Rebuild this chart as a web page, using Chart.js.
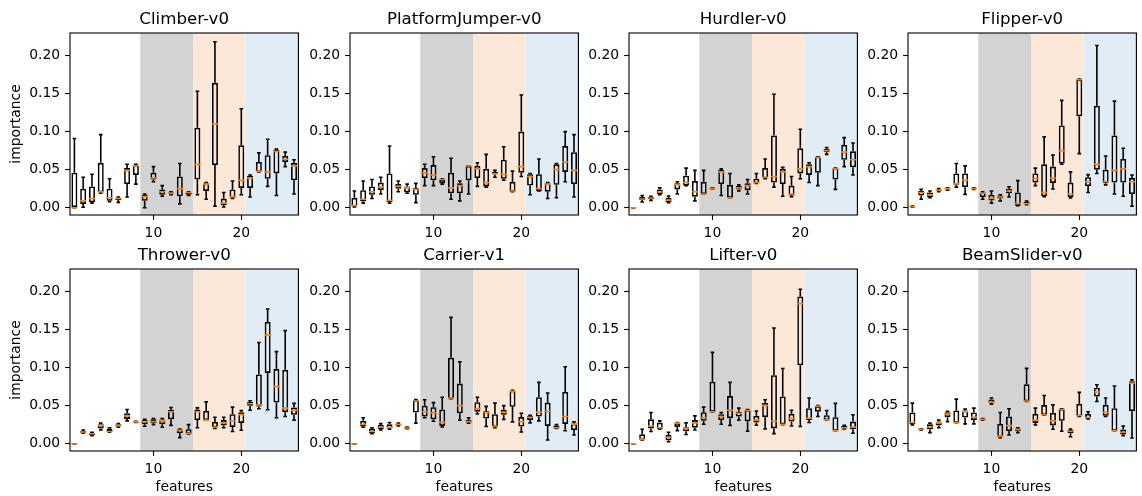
<!DOCTYPE html>
<html>
<head>
<meta charset="utf-8">
<script src="https://cdn.jsdelivr.net/npm/chart.js@4.4.1/dist/chart.umd.min.js"></script>
<style>
  body { margin: 0; background: #fff; }
  #fig { position: relative; width: 1142px; height: 496px; overflow: hidden; background: #fff; }
  #fig canvas { position: absolute; }
</style>
</head>
<body>
<div id="fig"></div>
<script>
// one boxplot per feature, rows are [min, q1, median, q3, max]
const envNames = ["Climber-v0", "PlatformJumper-v0", "Hurdler-v0", "Flipper-v0",
                  "Thrower-v0", "Carrier-v1", "Lifter-v0", "BeamSlider-v0"];
const features = [1, 2, 3, 4, 5, 6, 7, 8, 9, 10, 11, 12, 13, 14, 15, 16, 17, 18, 19, 20, 21, 22, 23, 24, 25, 26];
const xTicks = [10, 20];
const yTicks = [0, 0.05, 0.1, 0.15, 0.2];
const yMin = -0.0096, yMax = 0.2295;
const spanEdges = [8.5, 14.5, 20.5, 26.5];
const spanColors = ["#d3d3d3", "#fbe8d9", "#e1ecf5"];

const climber = [
  [0, 0, 0, 0.046, 0.091], [0.0005, 0.005, 0.009, 0.025, 0.040], [0.006, 0.007, 0.012, 0.028, 0.044],
  [0.019, 0.020, 0.021, 0.059, 0.096], [0.008, 0.009, 0.013, 0.025, 0.038], [0.007, 0.010, 0.012, 0.013, 0.014],
  [0.014, 0.031, 0.049, 0.052, 0.057], [0.031, 0.043, 0.055, 0.056, 0.057], [0.0, 0.009, 0.0145, 0.017, 0.018],
  [0.034, 0.037, 0.039, 0.046, 0.054], [0.015, 0.017, 0.021, 0.024, 0.029], [0.017, 0.018, 0.019, 0.020, 0.021],
  [0.005, 0.015, 0.025, 0.041, 0.058], [0.016, 0.017, 0.020, 0.020, 0.021], [0.017, 0.037, 0.057, 0.105, 0.153],
  [0.011, 0.022, 0.031, 0.032, 0.033], [0.002, 0.056, 0.110, 0.164, 0.218], [0.001, 0.0035, 0.006, 0.012, 0.020],
  [0.012, 0.013, 0.0145, 0.024, 0.035], [0.017, 0.026, 0.036, 0.082, 0.130], [0.014, 0.026, 0.039, 0.042, 0.043],
  [0.047, 0.047, 0.048, 0.060, 0.072], [0.028, 0.038, 0.047, 0.069, 0.090], [0.016, 0.045, 0.074, 0.076, 0.077],
  [0.054, 0.060, 0.0636, 0.068, 0.073], [0.018, 0.036, 0.055, 0.059, 0.063]
];
const platformJumper = [
  [0.001, 0.0015, 0.003, 0.013, 0.022], [0.006, 0.008, 0.011, 0.023, 0.035], [0.012, 0.017, 0.021, 0.028, 0.037],
  [0.018, 0.023, 0.027, 0.033, 0.040], [0.006, 0.0075, 0.0096, 0.045, 0.081], [0.021, 0.025, 0.028, 0.031, 0.035],
  [0.019, 0.020, 0.026, 0.028, 0.031], [0.0066, 0.017, 0.024, 0.026, 0.032], [0.029, 0.039, 0.046, 0.052, 0.057],
  [0.029, 0.036, 0.043, 0.056, 0.067], [0.031, 0.032, 0.037, 0.037, 0.038], [0.011, 0.019, 0.026, 0.046, 0.065],
  [0.009, 0.019, 0.029, 0.032, 0.035], [0.018, 0.036, 0.0548, 0.055, 0.055], [0.028, 0.039, 0.051, 0.055, 0.059],
  [0.027, 0.028, 0.033, 0.051, 0.070], [0.040, 0.044, 0.0445, 0.047, 0.049], [0.036, 0.038, 0.044, 0.063, 0.080],
  [0.021, 0.021, 0.022, 0.034, 0.048], [0.041, 0.046, 0.054, 0.100, 0.148], [0.017, 0.029, 0.041, 0.044, 0.045],
  [0.022, 0.022, 0.025, 0.044, 0.064], [0.012, 0.021, 0.031, 0.032, 0.033], [0.013, 0.030, 0.050, 0.057, 0.058],
  [0.034, 0.047, 0.060, 0.081, 0.100], [0.014, 0.031, 0.049, 0.073, 0.096]
];
const hurdler = [
  [0, 0, 0, 0, 0], [0.0075, 0.010, 0.0115, 0.014, 0.016], [0.0096, 0.011, 0.0127, 0.014, 0.015],
  [0.017, 0.018, 0.0206, 0.024, 0.026], [0.0066, 0.0075, 0.010, 0.0127, 0.0153], [0.018, 0.024, 0.030, 0.032, 0.034],
  [0.029, 0.029, 0.033, 0.042, 0.052], [0.009, 0.0145, 0.021, 0.035, 0.049], [0.018, 0.018, 0.018, 0.034, 0.049],
  [0.0245, 0.0245, 0.025, 0.026, 0.026], [0.016, 0.031, 0.047, 0.0496, 0.051], [0.013, 0.013, 0.013, 0.030, 0.045],
  [0.022, 0.024, 0.026, 0.0285, 0.030], [0.018, 0.023, 0.029, 0.032, 0.037], [0.032, 0.032, 0.033, 0.038, 0.045],
  [0.038, 0.0386, 0.040, 0.052, 0.064], [0.027, 0.033, 0.041, 0.095, 0.149], [0.015, 0.031, 0.047, 0.051, 0.053],
  [0.0145, 0.016, 0.018, 0.029, 0.041], [0.038, 0.045, 0.051, 0.078, 0.103], [0.033, 0.043, 0.054, 0.057, 0.059],
  [0.029, 0.046, 0.066, 0.067, 0.067], [0.070, 0.073, 0.075, 0.077, 0.079], [0.024, 0.037, 0.051, 0.052, 0.052],
  [0.054, 0.063, 0.073, 0.0825, 0.092], [0.043, 0.053, 0.063, 0.074, 0.085]
];
const flipper = [
  [0.0005, 0.001, 0.0012, 0.0015, 0.002], [0.011, 0.016, 0.020, 0.022, 0.024], [0.013, 0.014, 0.0167, 0.020, 0.022],
  [0.021, 0.022, 0.023, 0.024, 0.025], [0.023, 0.024, 0.025, 0.0254, 0.026], [0.027, 0.030, 0.0316, 0.045, 0.058],
  [0.0175, 0.027, 0.036, 0.045, 0.055], [0.024, 0.0245, 0.025, 0.0255, 0.026], [0.011, 0.014, 0.019, 0.020, 0.021],
  [0.006, 0.0096, 0.0123, 0.017, 0.022], [0.009, 0.012, 0.014, 0.016, 0.017], [0.014, 0.019, 0.022, 0.025, 0.0276],
  [0.0025, 0.0026, 0.0053, 0.020, 0.0355], [0.004, 0.0045, 0.0053, 0.0079, 0.0088], [0.029, 0.033, 0.038, 0.045, 0.052],
  [0.0145, 0.015, 0.020, 0.057, 0.093], [0.0245, 0.0325, 0.039, 0.054, 0.069], [0.057, 0.058, 0.075, 0.108, 0.141],
  [0.0127, 0.014, 0.018, 0.033, 0.047], [0.071, 0.120, 0.168, 0.1685, 0.169], [0.020, 0.0285, 0.034, 0.040, 0.0434],
  [0.045, 0.050, 0.057, 0.134, 0.213], [0.030, 0.032, 0.034, 0.050, 0.068], [0.018, 0.033, 0.049, 0.095, 0.140],
  [0.015, 0.033, 0.051, 0.064, 0.078], [0.002, 0.018, 0.034, 0.039, 0.043]
];
const thrower = [
  [0, 0, 0, 0, 0], [0.0137, 0.0143, 0.0154, 0.017, 0.018], [0.0106, 0.011, 0.013, 0.0145, 0.015],
  [0.018, 0.020, 0.024, 0.0255, 0.027], [0.015, 0.016, 0.016, 0.020, 0.021], [0.0216, 0.0225, 0.024, 0.0255, 0.0264],
  [0.030, 0.0326, 0.0366, 0.040, 0.045], [0.028, 0.0283, 0.0286, 0.029, 0.0295], [0.023, 0.0255, 0.029, 0.031, 0.032],
  [0.025, 0.027, 0.029, 0.032, 0.033], [0.0216, 0.0255, 0.030, 0.0317, 0.033], [0.024, 0.032, 0.042, 0.0445, 0.0476],
  [0.008, 0.0137, 0.0176, 0.019, 0.0194], [0.0128, 0.013, 0.0137, 0.019, 0.025], [0.021, 0.031, 0.042, 0.045, 0.047],
  [0.031, 0.031, 0.031, 0.043, 0.055], [0.020, 0.0216, 0.022, 0.0286, 0.0348], [0.021, 0.024, 0.0273, 0.031, 0.0348],
  [0.016, 0.022, 0.0295, 0.0388, 0.048], [0.0176, 0.0273, 0.038, 0.0414, 0.0436], [0.044, 0.050, 0.0524, 0.055, 0.0564],
  [0.046, 0.049, 0.051, 0.091, 0.133], [0.0445, 0.093, 0.143, 0.160, 0.177], [0.034, 0.054, 0.075, 0.098, 0.121],
  [0.0357, 0.0414, 0.0467, 0.097, 0.1485], [0.031, 0.038, 0.044, 0.0476, 0.053]
];
const carrier = [
  [0, 0, 0, 0, 0], [0.0216, 0.0225, 0.0255, 0.030, 0.034], [0.013, 0.0137, 0.016, 0.0198, 0.021],
  [0.018, 0.0194, 0.0216, 0.0247, 0.0264], [0.019, 0.0198, 0.0216, 0.0255, 0.0278], [0.0233, 0.024, 0.0255, 0.026, 0.027],
  [0.0198, 0.020, 0.0207, 0.0215, 0.022], [0.027, 0.041, 0.056, 0.057, 0.058], [0.034, 0.0357, 0.042, 0.050, 0.0577],
  [0.0295, 0.032, 0.0405, 0.048, 0.054], [0.022, 0.0233, 0.028, 0.045, 0.061], [0.059, 0.059, 0.060, 0.113, 0.166],
  [0.031, 0.040, 0.050, 0.079, 0.1075], [0.027, 0.028, 0.029, 0.031, 0.034], [0.039, 0.042, 0.046, 0.0546, 0.061],
  [0.0225, 0.033, 0.0414, 0.043, 0.049], [0.021, 0.022, 0.023, 0.0388, 0.0533], [0.032, 0.038, 0.0414, 0.0445, 0.050],
  [0.0286, 0.0485, 0.0687, 0.0696, 0.070], [0.0154, 0.0225, 0.029, 0.035, 0.040], [0.0273, 0.031, 0.0348, 0.0366, 0.0374],
  [0.030, 0.0357, 0.0414, 0.061, 0.0806], [0.0048, 0.0233, 0.0423, 0.054, 0.0665], [0.020, 0.020, 0.021, 0.024, 0.025],
  [0.017, 0.026, 0.0357, 0.068, 0.101], [0.0115, 0.018, 0.0255, 0.0264, 0.0286]
];
const lifter = [
  [0, 0, 0, 0, 0], [0.0048, 0.005, 0.006, 0.0123, 0.019], [0.016, 0.020, 0.0233, 0.032, 0.041],
  [0.019, 0.0194, 0.021, 0.0278, 0.030], [0.0026, 0.0044, 0.0084, 0.0115, 0.015], [0.0172, 0.022, 0.027, 0.027, 0.0278],
  [0.012, 0.0163, 0.020, 0.0216, 0.0273], [0.018, 0.021, 0.0273, 0.031, 0.0366], [0.0255, 0.030, 0.034, 0.0414, 0.048],
  [0.0418, 0.0418, 0.042, 0.0815, 0.120], [0.0255, 0.031, 0.0357, 0.0388, 0.041], [0.024, 0.0335, 0.044, 0.0626, 0.0806],
  [0.031, 0.0357, 0.040, 0.042, 0.0467], [0.0163, 0.0295, 0.0436, 0.0445, 0.045], [0.0242, 0.0278, 0.031, 0.0366, 0.043],
  [0.0194, 0.0348, 0.050, 0.0537, 0.0577], [0.0132, 0.020, 0.0295, 0.090, 0.152], [0.025, 0.0255, 0.0256, 0.062, 0.0987],
  [0.0233, 0.029, 0.0335, 0.039, 0.044], [0.0225, 0.103, 0.184, 0.1934, 0.203], [0.0278, 0.031, 0.0335, 0.0467, 0.060],
  [0.0357, 0.042, 0.049, 0.049, 0.050], [0.031, 0.031, 0.0313, 0.0374, 0.0436], [0.017, 0.017, 0.0172, 0.0348, 0.053],
  [0.0194, 0.0198, 0.021, 0.0233, 0.024], [0.0137, 0.019, 0.022, 0.029, 0.038]
];
const beamSlider = [
  [0.0247, 0.0255, 0.028, 0.041, 0.0533], [0.018, 0.0185, 0.019, 0.0193, 0.0196], [0.0145, 0.019, 0.022, 0.0255, 0.027],
  [0.021, 0.024, 0.0273, 0.029, 0.031], [0.029, 0.0348, 0.0388, 0.0414, 0.0427], [0.0277, 0.0278, 0.028, 0.0436, 0.0586],
  [0.026, 0.0344, 0.042, 0.0436, 0.0454], [0.026, 0.031, 0.0348, 0.041, 0.0467], [0.031, 0.031, 0.032, 0.033, 0.033],
  [0.052, 0.053, 0.0546, 0.058, 0.060], [0.008, 0.0088, 0.010, 0.026, 0.041], [0.0115, 0.0167, 0.0238, 0.0357, 0.046],
  [0.0145, 0.0163, 0.0185, 0.020, 0.021], [0.0555, 0.0557, 0.056, 0.078, 0.099], [0.0247, 0.0273, 0.031, 0.039, 0.0467],
  [0.0375, 0.0376, 0.038, 0.0507, 0.0634], [0.019, 0.024, 0.030, 0.0405, 0.051], [0.0163, 0.030, 0.045, 0.0458, 0.046],
  [0.0092, 0.0137, 0.0163, 0.018, 0.0194], [0.0357, 0.036, 0.037, 0.0524, 0.0674], [0.0326, 0.033, 0.0344, 0.039, 0.042],
  [0.0555, 0.062, 0.068, 0.0736, 0.0775], [0.0357, 0.0366, 0.041, 0.051, 0.060], [0.017, 0.017, 0.0172, 0.0467, 0.0758],
  [0.0106, 0.012, 0.015, 0.0185, 0.0233], [0.0075, 0.0427, 0.0797, 0.082, 0.084]
];

const panels = [climber, platformJumper, hurdler, flipper, thrower, carrier, lifter, beamSlider];

Chart.defaults.font.family = "'DejaVu Sans', sans-serif";
Chart.defaults.font.size = 13.9;
Chart.defaults.color = "#000";

// axes boxes of the 2x4 grid
const colLeft = [70, 350, 629, 908];
const rowTop = [33, 269];

const spanPlugin = {
  id: "spans",
  beforeDatasetsDraw(chart) {
    const { ctx, chartArea: a, scales: { x } } = chart;
    ctx.save();
    spanColors.forEach((c, k) => {
      const x0 = x.getPixelForValue(spanEdges[k]);
      const x1 = x.getPixelForValue(spanEdges[k + 1]);
      ctx.fillStyle = c;
      ctx.fillRect(x0, a.top, x1 - x0, a.bottom - a.top);
    });
    ctx.restore();
  },
  afterDraw(chart) {
    const { ctx, chartArea: a } = chart;
    ctx.save();
    ctx.strokeStyle = "#000";
    ctx.lineWidth = 1.1;
    ctx.strokeRect(a.left, a.top, a.right - a.left, a.bottom - a.top);
    ctx.restore();
  }
};

const tickGrid = {
  display: true, drawOnChartArea: false, drawTicks: true,
  tickLength: 4.9, tickWidth: 1.1, tickColor: "#000", offset: false
};

const fig = document.getElementById("fig");

panels.forEach((rows, i) => {
  const col = i % 4, row = Math.floor(i / 4);
  const canvas = document.createElement("canvas");
  canvas.width = 304;
  canvas.height = 260;
  canvas.style.left = (colLeft[col] - 70) + "px";
  canvas.style.top = (rowTop[row] - 33) + "px";
  fig.appendChild(canvas);

  const lower = features.map((f, j) => ({ x: f, y: [rows[j][0], rows[j][1]] }));
  const upper = features.map((f, j) => ({ x: f, y: [rows[j][3], rows[j][4]] }));
  const boxes = features.map((f, j) => ({ x: f, y: [rows[j][1], rows[j][3]] }));
  const caps = features.map((f, j) => ({ x: f, y: rows[j][0] }))
    .concat(features.map((f, j) => ({ x: f, y: rows[j][4] })));
  const medians = features.map((f, j) => ({ x: f, y: rows[j][2] }));

  const whisker = {
    backgroundColor: "#000", borderWidth: 0, barThickness: 1.6,
    grouped: false, inflateAmount: 0, order: 4
  };

  new Chart(canvas, {
    type: "bar",
    data: {
      datasets: [
        Object.assign({ label: "lower", data: lower }, whisker),
        Object.assign({ label: "upper", data: upper }, whisker),
        {
          label: "box", data: boxes, backgroundColor: "rgba(0,0,0,0)",
          borderColor: "#000", borderWidth: 1.6, borderSkipped: false,
          barThickness: 6, grouped: false, inflateAmount: 0, order: 3
        },
        {
          type: "scatter", label: "caps", data: caps, showLine: false,
          pointStyle: "line", pointRadius: 1.8, pointBorderColor: "#000",
          pointBorderWidth: 1.6, order: 2
        },
        {
          type: "scatter", label: "median", data: medians, showLine: false,
          pointStyle: "line", pointRadius: 3, pointBorderColor: "#ff7f0e",
          pointBorderWidth: 1.6, order: 1
        }
      ]
    },
    options: {
      responsive: false,
      animation: false,
      events: [],
      layout: { padding: { top: 0, right: 1, bottom: 0, left: 0 } },
      plugins: {
        legend: { display: false },
        tooltip: { enabled: false },
        title: {
          display: true, text: envNames[i], color: "#000", fullSize: false,
          font: { size: 16.67, weight: "normal" },
          padding: { top: 10, bottom: 3 }
        }
      },
      scales: {
        x: {
          type: "linear", min: 0.5, max: 26.5, offset: false,
          grid: tickGrid,
          border: { display: false },
          ticks: { autoSkip: false, maxRotation: 0, padding: 4.9, color: "#000", callback: v => String(v) },
          afterBuildTicks: s => { s.ticks = xTicks.map(v => ({ value: v })); },
          afterFit: s => { s.height = 45; },
          title: { display: row === 1, text: "features", color: "#000", padding: 0 }
        },
        y: {
          min: yMin, max: yMax, beginAtZero: false,
          grid: tickGrid,
          border: { display: false },
          ticks: { autoSkip: false, padding: 4.9, color: "#000", callback: v => v.toFixed(2) },
          afterBuildTicks: s => { s.ticks = yTicks.map(v => ({ value: v })); },
          afterFit: s => { s.width = 70; },
          title: { display: col === 0, text: "importance", color: "#000", padding: { top: 7.7, bottom: 0 } }
        }
      }
    },
    plugins: [spanPlugin]
  });
});
</script>
</body>
</html>
